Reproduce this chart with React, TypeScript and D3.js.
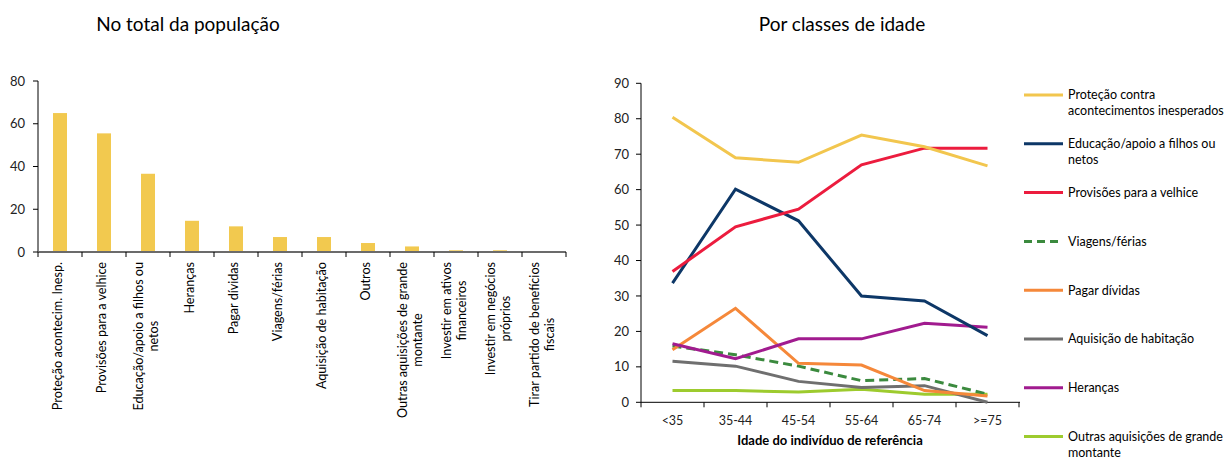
import React, { useEffect, useRef } from "react";
import * as d3 from "d3";

const barCategories: string[][] = [
  ["Proteção acontecim. Inesp."],
  ["Provisões para a velhice"],
  ["Educação/apoio a filhos ou", "netos"],
  ["Heranças"],
  ["Pagar dívidas"],
  ["Viagens/férias"],
  ["Aquisição de habitação"],
  ["Outros"],
  ["Outras aquisições de grande", "montante"],
  ["Investir em ativos", "financeiros"],
  ["Investir em negócios", "próprios"],
  ["Tirar partido de benefícios", "fiscais"],
];
const barValues = [65, 55.5, 36.6, 14.6, 12, 7, 7, 4.2, 2.6, 0.8, 0.8, 0.3];
const barTicks = [0, 20, 40, 60, 80];

const ageClasses = ["<35", "35-44", "45-54", "55-64", "65-74", ">=75"];
const lineTicks = [0, 10, 20, 30, 40, 50, 60, 70, 80, 90];

const protecao = [80.4, 69.0, 67.7, 75.4, 72.1, 66.7];
const educacao = [33.6, 60.1, 51.2, 30.0, 28.6, 18.8];
const provisoes = [36.9, 49.5, 54.5, 67.0, 71.7, 71.7];
const viagens = [15.9, 13.4, 10.2, 6.1, 6.7, 2.3];
const pagar = [14.8, 26.5, 11.0, 10.5, 3.3, 1.8];
const habitacao = [11.6, 10.2, 5.9, 4.2, 4.7, 0.0];
const herancas = [16.5, 12.3, 17.9, 17.9, 22.3, 21.2];
const outrasAq = [3.3, 3.3, 2.9, 3.7, 2.3, 2.3];

const seriesNames: string[][] = [
  ["Proteção contra", "acontecimentos inesperados"],
  ["Educação/apoio a filhos ou", "netos"],
  ["Provisões para a velhice"],
  ["Viagens/férias"],
  ["Pagar dívidas"],
  ["Aquisição de habitação"],
  ["Heranças"],
  ["Outras aquisições de grande", "montante"],
];
const seriesValues = [protecao, educacao, provisoes, viagens, pagar, habitacao, herancas, outrasAq];
const seriesColors = ["#F2C64E", "#0D3767", "#EC1C3E", "#3B8A3E", "#F5883A", "#6F6F6F", "#A11B8F", "#9DCB2E"];
const seriesDashed = [false, false, false, true, false, false, false, false];

const FONT = "Lato, 'Open Sans', sans-serif";

export default function App() {
  const ref = useRef<SVGSVGElement>(null);
  useEffect(() => {
    const svg = d3.select(ref.current);
    svg.selectAll("*").remove();

    // ---------- Left chart ----------
    const x1 = d3.scaleBand<number>().domain(d3.range(barValues.length)).range([38, 566]);
    const y1 = d3.scaleLinear().domain([0, 80]).range([252, 81]);

    svg.append("text").attr("x", 188).attr("y", 31).attr("text-anchor", "middle")
      .attr("font-size", 19).attr("fill", "#000").attr("font-family", FONT).text("No total da população");

    const L = svg.append("g");
    L.selectAll("rect.bar").data(barValues).join("rect")
      .attr("x", (_, i) => x1(i)! + x1.bandwidth() / 2 - 7)
      .attr("width", 14)
      .attr("y", (d) => y1(d))
      .attr("height", (d) => y1(0) - y1(d))
      .attr("fill", "#F2C94F");

    // y axis
    L.append("line").attr("x1", 38).attr("x2", 38).attr("y1", y1(80)).attr("y2", y1(0))
      .attr("stroke", "#000").attr("stroke-width", 1);
    barTicks.forEach((t) => {
      L.append("line").attr("x1", 33).attr("x2", 38).attr("y1", y1(t)).attr("y2", y1(t)).attr("stroke", "#000");
      L.append("text").attr("x", 25).attr("y", y1(t)).attr("dy", "0.35em").attr("text-anchor", "end")
        .attr("font-size", 13).attr("font-family", FONT).attr("fill", "#222").text(t);
    });
    // x axis
    L.append("line").attr("x1", 38).attr("x2", 566).attr("y1", y1(0)).attr("y2", y1(0))
      .attr("stroke", "#6b6b6b").attr("stroke-width", 2);
    d3.range(barValues.length + 1).forEach((i) => {
      const xx = i < barValues.length ? x1(i)! : 566;
      L.append("line").attr("x1", xx).attr("x2", xx).attr("y1", y1(0)).attr("y2", y1(0) + 5)
        .attr("stroke", "#000").attr("stroke-width", 1);
    });
    // rotated labels
    barCategories.forEach((lines, i) => {
      const cx = x1(i)! + x1.bandwidth() / 2 - 1;
      const g = L.append("g").attr("transform", `translate(${cx},262) rotate(-90)`);
      const texts = lines.map((ln, k) =>
        g.append("text").attr("font-size", 12.6).attr("font-family", FONT).attr("fill", "#000")
          .attr("dominant-baseline", "middle").attr("text-anchor", "middle")
          .attr("y", (k - (lines.length - 1) / 2) * 15).text(ln)
      );
      const maxLen = d3.max(texts, (t) => (t.node() as SVGTextElement).getComputedTextLength()) || 0;
      texts.forEach((t) => t.attr("x", -maxLen / 2));
    });

    // ---------- Right chart ----------
    const x2 = d3.scaleBand<string>().domain(ageClasses).range([641, 1019]);
    const y2 = d3.scaleLinear().domain([0, 90]).range([402.3, 83.3]);

    svg.append("text").attr("x", 842).attr("y", 31).attr("text-anchor", "middle")
      .attr("font-size", 19).attr("fill", "#000").attr("font-family", FONT).text("Por classes de idade");

    const R = svg.append("g");
    R.append("line").attr("x1", 641).attr("x2", 641).attr("y1", y2(90)).attr("y2", y2(0)).attr("stroke", "#000");
    lineTicks.forEach((t) => {
      R.append("line").attr("x1", 636).attr("x2", 641).attr("y1", y2(t)).attr("y2", y2(t)).attr("stroke", "#000");
      R.append("text").attr("x", 629).attr("y", y2(t)).attr("dy", "0.35em").attr("text-anchor", "end")
        .attr("font-size", 13).attr("font-family", FONT).attr("fill", "#222").text(t);
    });
    R.append("line").attr("x1", 641).attr("x2", 1020).attr("y1", y2(0)).attr("y2", y2(0)).attr("stroke", "#000");
    ageClasses.forEach((a) => {
      R.append("line").attr("x1", x2(a)!).attr("x2", x2(a)!).attr("y1", y2(0)).attr("y2", y2(0) + 5).attr("stroke", "#000");
      R.append("text").attr("x", x2(a)! + x2.bandwidth() / 2).attr("y", 421).attr("dy", "0.35em")
        .attr("text-anchor", "middle").attr("font-size", 12.5).attr("font-family", FONT).attr("fill", "#222").text(a);
    });
    R.append("line").attr("x1", 1019).attr("x2", 1019).attr("y1", y2(0)).attr("y2", y2(0) + 5).attr("stroke", "#000");
    R.append("text").attr("x", 830).attr("y", 440).attr("dy", "0.35em").attr("text-anchor", "middle")
      .attr("font-size", 13).attr("font-weight", "bold").attr("font-family", FONT).attr("fill", "#000")
      .text("Idade do indivíduo de referência");

    const line = d3.line<number>()
      .x((_, i) => x2(ageClasses[i])! + x2.bandwidth() / 2)
      .y((d) => y2(d));
    const order = [7, 5, 3, 4, 6, 1, 2, 0];
    order.forEach((s) => {
      R.append("path").attr("d", line(seriesValues[s])!).attr("fill", "none")
        .attr("stroke", seriesColors[s]).attr("stroke-width", 3)
        .attr("stroke-dasharray", seriesDashed[s] ? "9,5" : null);
    });

    // legend
    seriesNames.forEach((lines, s) => {
      const yy = 95 + s * 48.8;
      svg.append("line").attr("x1", 1024).attr("x2", 1063).attr("y1", yy).attr("y2", yy)
        .attr("stroke", seriesColors[s]).attr("stroke-width", 3)
        .attr("stroke-dasharray", seriesDashed[s] ? "8,5" : null);
      lines.forEach((ln, k) => {
        svg.append("text").attr("x", 1068).attr("y", yy + k * 16).attr("dy", "0.35em")
          .attr("font-size", 12.5).attr("font-family", FONT).attr("fill", "#000").text(ln);
      });
    });
  }, []);
  return (
    <svg ref={ref} width={1228} height={460} style={{ position: "absolute", left: 0, top: 0, background: "#fff" }} />
  );
}
